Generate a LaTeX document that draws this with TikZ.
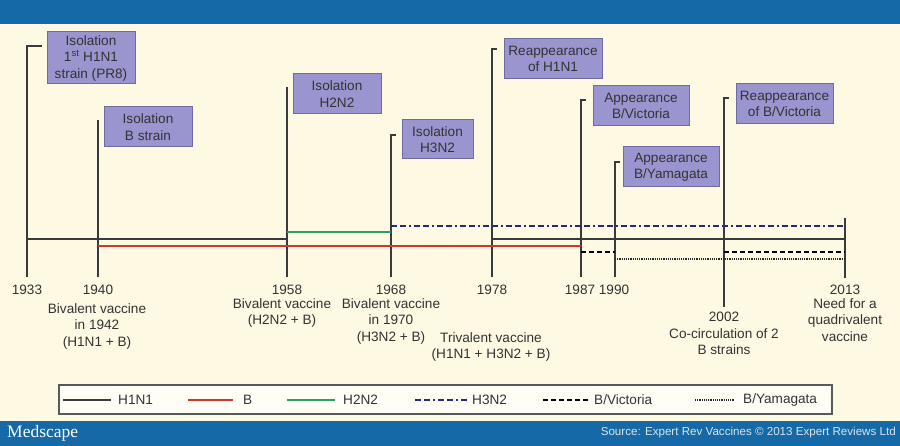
\documentclass[tikz,border=0pt]{standalone}
\usepackage{fontspec}
\setmainfont{Liberation Sans}
\newfontfamily\logofont{Liberation Serif}

\definecolor{barblue}{HTML}{1469A6}
\definecolor{paper}{HTML}{FDF9E2}
\definecolor{boxfill}{HTML}{9A95CF}
\definecolor{boxedge}{HTML}{6F6BA3}
\definecolor{inkgray}{HTML}{3A3A3A}
\definecolor{bred}{HTML}{D2362B}
\definecolor{hgreen}{HTML}{2FA062}
\definecolor{hnavy}{HTML}{27287A}
\definecolor{srcgray}{HTML}{DCE3EC}

\newcommand\txtsize{\fontsize{13.6}{16.5}\selectfont}

\tikzset{
  evbox/.style={draw=boxedge, line width=1pt, fill=boxfill, text=black!80,
    align=center, inner sep=0pt, font=\txtsize},
  yearlbl/.style={text=black!80, font=\txtsize, inner sep=0pt},
  notelbl/.style={text=black!80, font=\txtsize, align=center, inner sep=0pt, anchor=north},
  yearline/.style={draw=inkgray, line width=1.2pt},
  h1n1/.style={draw=inkgray, line width=1.4pt},
  bline/.style={draw=bred, line width=2pt},
  h2n2/.style={draw=hgreen, line width=2pt},
  h3n2/.style={draw=hnavy, line width=1.6pt,
    dash pattern=on 6pt off 3pt on 6pt off 3pt on 2pt off 3pt},
  vicline/.style={draw=black, line width=1.8pt, dash pattern=on 5pt off 3pt},
  yamline/.style={draw=black!85, line width=1.5pt, dash pattern=on 1.2pt off 1pt},
}

\begin{document}
\begin{tikzpicture}[x=1pt, y=-1pt]

\useasboundingbox (0,0) rectangle (900,446);

% Fond et bandeaux
\fill[paper] (0,0) rectangle (900,446);
\fill[barblue] (0,0) rectangle (900,24);
\fill[barblue] (0,421) rectangle (900,446);

% Traits verticaux des annees
\foreach \x/\top/\bot/\hook in {27/46/277/15, 98/120/277/0, 287/87/277/0,
    391/135/277/5, 492/49/277/5, 581/100/277/5, 615/162/277/5,
    724/98/307/5, 845/218/278/0}
  \draw[yearline] (\x+\hook,\top) -- (\x,\top) -- (\x,\bot);

% Periodes de circulation
\draw[h1n1] (27,239) -- (287,239);
\draw[h1n1] (492,239) -- (845,239);
\draw[bline] (98,246) -- (581,246);
\draw[h2n2] (287,232) -- (391,232);
\draw[h3n2] (391,226) -- (845,226);
\draw[vicline] (581,252) -- (615,252);
\draw[vicline] (724,252) -- (845,252);
\draw[yamline] (615,259) -- (845,259);

% Evenements
\node[evbox, minimum width=88, minimum height=52] (iso1933) at (91,58)
  {Isolation\\1\textsuperscript{st} H1N1\\strain (PR8)};
\node[evbox, minimum width=88, minimum height=40] (iso1940) at (148,127)
  {Isolation\\B strain};
\node[evbox, minimum width=88, minimum height=40] (iso1958) at (337,94)
  {Isolation\\H2N2};
\node[evbox, minimum width=71, minimum height=39] (iso1968) at (437.5,139.5)
  {Isolation\\H3N2};
\node[evbox, minimum width=98, minimum height=40] (re1978) at (553,59)
  {Reappearance\\of H1N1};
\node[evbox, minimum width=96, minimum height=40] (app1987) at (641,106)
  {Appearance\\B/Victoria};
\node[evbox, minimum width=96, minimum height=40] (app1990) at (671,167)
  {Appearance\\B/Yamagata};
\node[evbox, minimum width=97, minimum height=40] (re2002) at (784.5,104)
  {Reappearance\\of B/Victoria};

% Annees
\foreach \x/\yr in {27/1933, 98/1940, 287/1958, 391/1968, 492/1978,
    580/1987, 614/1990, 845/2013}
  \node[yearlbl] (yr\yr) at (\x,290) {\yr};

% Vaccins
\node[notelbl] (vac1942) at (97,303) {Bivalent vaccine\\in 1942\\(H1N1 + B)};
\node[notelbl] (vac1958) at (282,298) {Bivalent vaccine\\(H2N2 + B)};
\node[notelbl] (vac1970) at (391,298) {Bivalent vaccine\\in 1970\\(H3N2 + B)};
\node[notelbl] (vac1978) at (491,332) {Trivalent vaccine\\(H1N1 + H3N2 + B)};
\node[notelbl] (cocirc) at (724,312) {2002\\Co-circulation of 2\\B strains};
\node[notelbl] (quad) at (845,298) {Need for a\\quadrivalent\\vaccine};

% Legende
\draw[draw=black!65, line width=1.5pt, fill=white!70!paper] (59,385) rectangle (832,414);
\draw[h1n1] (63,400) -- (111,400);
\node[yearlbl, anchor=west] (legh1n1) at (118,400) {H1N1};
\draw[bline] (188,400) -- (233,400);
\node[yearlbl, anchor=west] (legb) at (243,400) {B};
\draw[h2n2] (287,400) -- (335,400);
\node[yearlbl, anchor=west] (legh2n2) at (343,400) {H2N2};
\draw[h3n2] (415,400) -- (467,400);
\node[yearlbl, anchor=west] (legh3n2) at (472,400) {H3N2};
\draw[vicline] (543,400) -- (589,400);
\node[yearlbl, anchor=west] (legvic) at (594,400) {B/Victoria};
\draw[yamline] (695,400) -- (734,400);
\node[yearlbl, anchor=west] (legyam) at (743,400) {B/Yamagata};

% Pied de page
\node[anchor=west, text=white, font=\logofont\fontsize{17.5}{18}\selectfont, inner sep=0pt]
  (logo) at (7,433) {Medscape};
\node[anchor=east, text=srcgray, font=\fontsize{11.6}{13}\selectfont, inner sep=0pt]
  (source) at (896,433) {Source: Expert Rev Vaccines © 2013 Expert Reviews Ltd};

\end{tikzpicture}
\end{document}
